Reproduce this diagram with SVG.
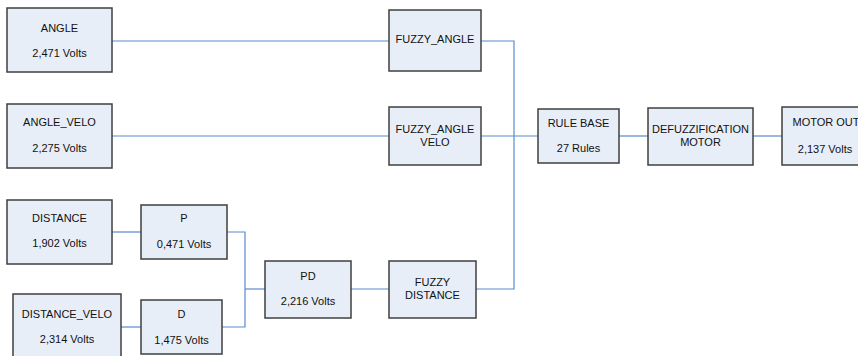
<svg xmlns="http://www.w3.org/2000/svg" width="858" height="356" viewBox="0 0 858 356">
<style>
.box{fill:#E8EEF7;stroke:#3F3F3F;stroke-width:1.5}
.t{font-family:"Liberation Sans",Arial,sans-serif;font-size:11px;fill:#111;text-anchor:middle}
.c{fill:none;stroke:#5B8BD0;stroke-width:1.2}
</style>
<rect width="858" height="356" fill="#fff"/>
<g id="connectors">
<path class="c" d="M112,41H389"/>
<path class="c" d="M112,136H389"/>
<path class="c" d="M481,41H514V289H476"/>
<path class="c" d="M481,136H538"/>
<path class="c" d="M619,136H648"/>
<path class="c" d="M753,136H782"/>
<path class="c" d="M112,232H141"/>
<path class="c" d="M121,327H141"/>
<path class="c" d="M227,232H245V327H222"/>
<path class="c" d="M245,289H265"/>
<path class="c" d="M351,289H389"/>
</g>
<g id="angle"><rect class="box" x="7" y="8" width="105" height="64"/><text class="t" x="59.5" y="32">ANGLE</text><text class="t" x="59.5" y="57">2,471 Volts</text></g>
<g id="angle_velo"><rect class="box" x="7" y="104" width="105" height="64"/><text class="t" x="59.5" y="126">ANGLE_VELO</text><text class="t" x="59.5" y="152">2,275 Volts</text></g>
<g id="distance"><rect class="box" x="7" y="200" width="105" height="64"/><text class="t" x="59.5" y="222">DISTANCE</text><text class="t" x="59.5" y="247">1,902 Volts</text></g>
<g id="distance_velo"><rect class="box" x="13" y="294" width="108" height="70"/><text class="t" x="67" y="318">DISTANCE_VELO</text><text class="t" x="67" y="343">2,314 Volts</text></g>
<g id="p"><rect class="box" x="141" y="205" width="86" height="54"/><text class="t" x="184" y="222">P</text><text class="t" x="184" y="248">0,471 Volts</text></g>
<g id="d"><rect class="box" x="141" y="300" width="81" height="54"/><text class="t" x="181.5" y="318">D</text><text class="t" x="181.5" y="344">1,475 Volts</text></g>
<g id="pd"><rect class="box" x="265" y="261" width="86" height="57"/><text class="t" x="308" y="280">PD</text><text class="t" x="308" y="305">2,216 Volts</text></g>
<g id="fuzzy_distance"><rect class="box" x="389" y="261" width="87" height="57"/><text class="t" x="432.5" y="286">FUZZY</text><text class="t" x="432.5" y="299">DISTANCE</text></g>
<g id="fuzzy_angle"><rect class="box" x="389" y="10" width="92" height="61"/><text class="t" x="435" y="43">FUZZY_ANGLE</text></g>
<g id="fuzzy_angle_velo"><rect class="box" x="389" y="107" width="92" height="58"/><text class="t" x="435" y="133">FUZZY_ANGLE</text><text class="t" x="435" y="146">VELO</text></g>
<g id="rule_base"><rect class="box" x="538" y="109" width="81" height="54"/><text class="t" x="578.5" y="127">RULE BASE</text><text class="t" x="578.5" y="152">27 Rules</text></g>
<g id="defuzz"><rect class="box" x="648" y="108" width="105" height="57"/><text class="t" x="700.5" y="133">DEFUZZIFICATION</text><text class="t" x="700.5" y="146">MOTOR</text></g>
<g id="motor_out"><rect class="box" x="782" y="107" width="90" height="58"/><text class="t" x="826" y="126">MOTOR OUT</text><text class="t" x="825" y="153">2,137 Volts</text></g>
</svg>
